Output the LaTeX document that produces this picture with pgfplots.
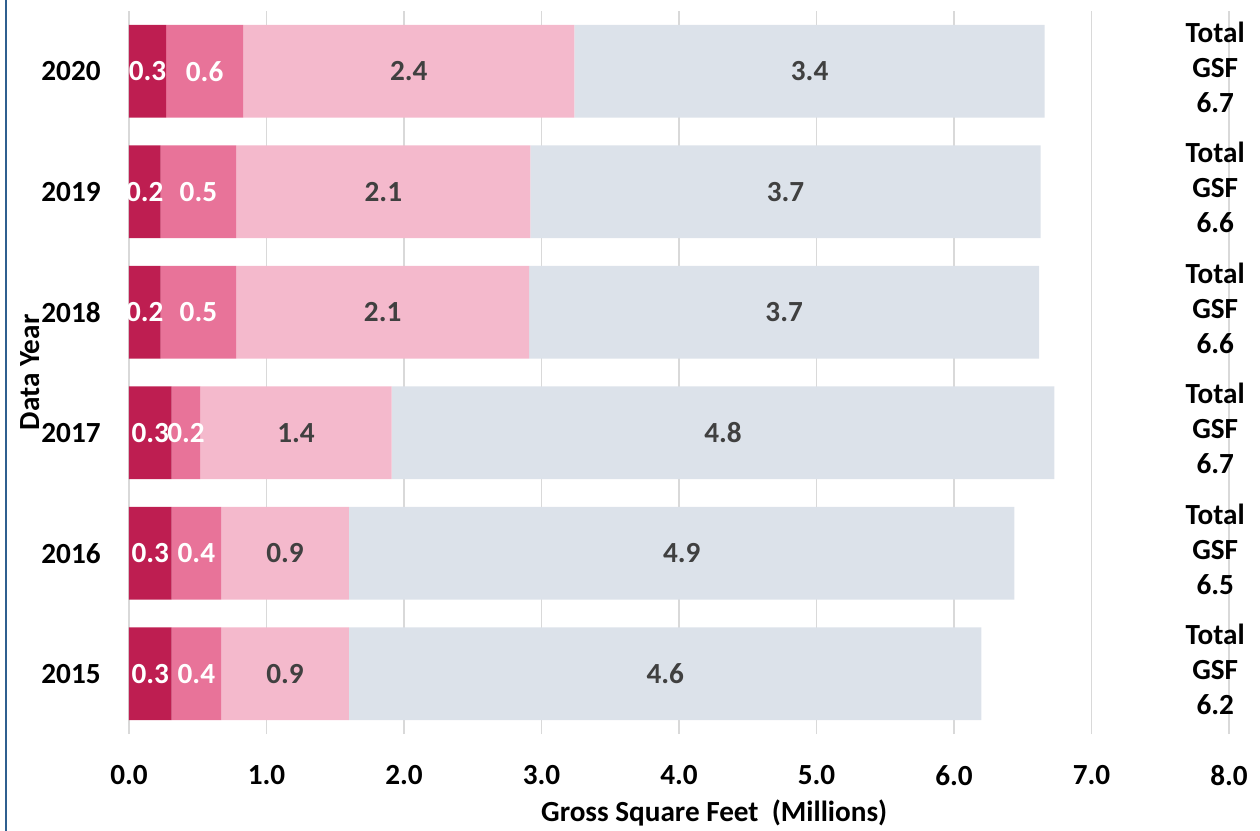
\documentclass[border=0pt]{standalone}
\usepackage{fontspec}
\setmainfont{Carlito}
\usepackage{pgfplots}
\pgfplotsset{compat=1.18}
\definecolor{cA}{HTML}{BE1E51}
\definecolor{cB}{HTML}{E87399}
\definecolor{cC}{HTML}{F4B9CC}
\definecolor{cD}{HTML}{DCE2EA}
\definecolor{lbl}{HTML}{404040}
\definecolor{gridc}{HTML}{D9D9D9}
\definecolor{framec}{HTML}{2F5F8F}
\newcommand{\ff}{\fontsize{14.6bp}{17.5bp}\selectfont\bfseries}
\begin{document}
\begin{tikzpicture}
\path[use as bounding box] (-64.5bp,-48.5bp) rectangle (565.5bp,367bp);
\draw[framec, line width=1bp] (-61.35bp,-48.5bp) -- (-61.35bp,367bp);
\pgfplotsset{base/.style={
  scale only axis, width=550bp, height=361.5bp,
  xmin=0, xmax=8, ymin=-0.5, ymax=5.5,
  at={(0,0)}, anchor=south west}}
\begin{axis}[base,
  xbar stacked, bar width=0.77,
  axis line style={draw=none},
  major tick length=0pt,
  xtick={0,1,...,8},
  ytick={0,...,5},
  yticklabels={2015,2016,2017,2018,2019,2020},
  xmajorgrids, grid style={gridc, line width=0.75bp},
  /pgf/number format/fixed, /pgf/number format/fixed zerofill,
  /pgf/number format/precision=1, /pgf/number format/assume math mode=true,
  tick label style={font=\ff, black},
  xticklabel style={anchor=north, inner sep=0pt, yshift=-15.5bp},
  yticklabel style={anchor=east, inner sep=0pt, xshift=-14bp},
  xlabel={Gross Square Feet\ \ (Millions)},
  xlabel style={font=\ff, at={(rel axis cs:0.532,-0.1093)}, anchor=center},
  ylabel={Data Year},
  ylabel style={font=\ff, at={(rel axis cs:-0.09,0.5)}, anchor=center},
]
\addplot[fill=cA, draw=none] coordinates {(0.31,0) (0.31,1) (0.31,2) (0.23,3) (0.23,4) (0.27,5)};
\addplot[fill=cB, draw=none] coordinates {(0.36,0) (0.36,1) (0.21,2) (0.55,3) (0.55,4) (0.56,5)};
\addplot[fill=cC, draw=none] coordinates {(0.93,0) (0.93,1) (1.39,2) (2.13,3) (2.14,4) (2.41,5)};
\addplot[fill=cD, draw=none] coordinates {(4.60,0) (4.84,1) (4.82,2) (3.71,3) (3.71,4) (3.42,5)};
\end{axis}
\begin{axis}[base, hide axis, clip=false]
\addplot[draw=none, mark=none, nodes near coords, point meta=explicit symbolic,
  every node near coord/.append style={font=\ff, anchor=center, white, inner sep=0pt}]
  coordinates {(0.155,0)[0.3] (0.155,1)[0.3] (0.155,2)[0.3] (0.115,3)[0.2] (0.115,4)[0.2] (0.135,5)[0.3]
  (0.49,0)[0.4] (0.49,1)[0.4] (0.415,2)[0.2] (0.505,3)[0.5] (0.505,4)[0.5] (0.55,5)[0.6]};
\addplot[draw=none, mark=none, nodes near coords, point meta=explicit symbolic,
  every node near coord/.append style={font=\ff, anchor=center, lbl, inner sep=0pt}]
  coordinates {(1.135,0)[0.9] (1.135,1)[0.9] (1.215,2)[1.4] (1.845,3)[2.1] (1.85,4)[2.1] (2.035,5)[2.4]
  (3.9,0)[4.6] (4.02,1)[4.9] (4.32,2)[4.8] (4.765,3)[3.7] (4.775,4)[3.7] (4.95,5)[3.4]};
\addplot[draw=none, mark=none, nodes near coords, point meta=explicit symbolic,
  every node near coord/.append style={font=\ff, anchor=center, black, align=center, inner sep=0pt, yshift=2bp}]
  coordinates {(7.9,0)[Total\\GSF\\6.2] (7.9,1)[Total\\GSF\\6.5] (7.9,2)[Total\\GSF\\6.7]
  (7.9,3)[Total\\GSF\\6.6] (7.9,4)[Total\\GSF\\6.6] (7.9,5)[Total\\GSF\\6.7]};
\end{axis}
\end{tikzpicture}
\end{document}
